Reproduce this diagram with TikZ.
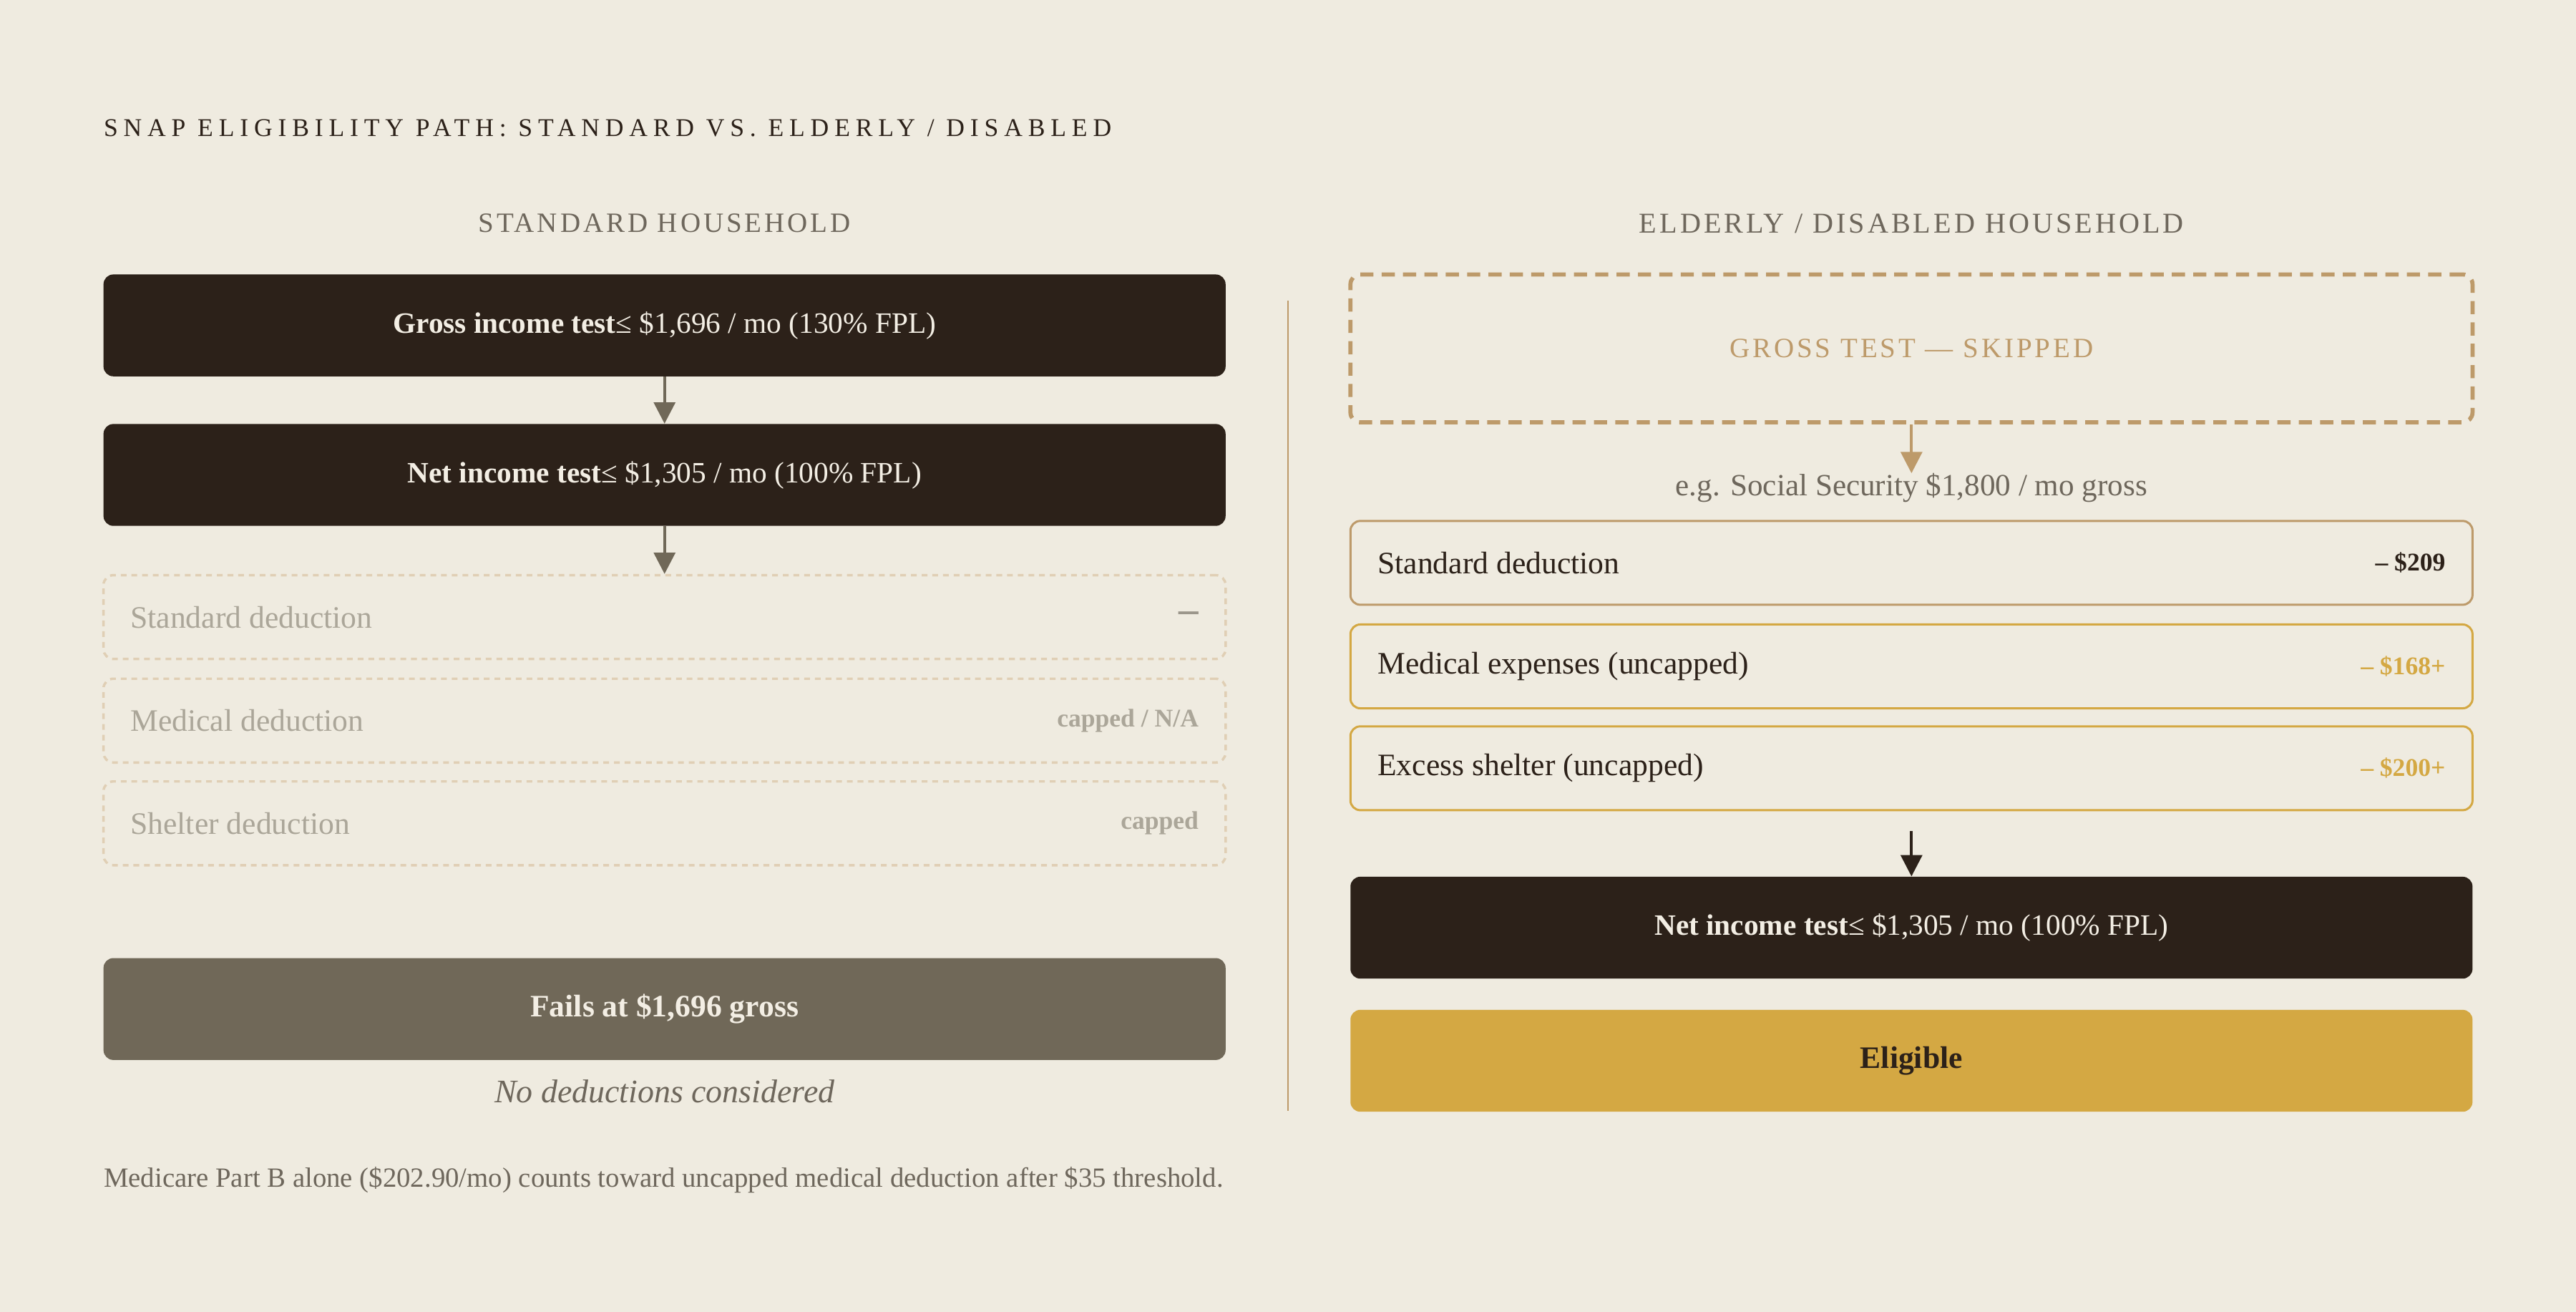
\documentclass[tikz,border=0pt]{standalone}
\usepackage{fontspec}
\setmainfont{Liberation Serif}
\newfontfamily\spacedfont[LetterSpace=22]{Liberation Serif}
\newfontfamily\headfont[LetterSpace=10]{Liberation Serif}
\usetikzlibrary{arrows.meta,positioning}

\definecolor{paper}{HTML}{EFEBE0}
\definecolor{ink}{HTML}{2C2119}
\definecolor{stone}{HTML}{706858}
\definecolor{gold}{HTML}{D4A843}
\definecolor{tan}{HTML}{BD9A6A}
\definecolor{faded}{HTML}{E0CFB5}
\definecolor{fadetext}{HTML}{ABA699}
\definecolor{cream}{HTML}{F3EEE4}
\definecolor{muted}{HTML}{6E675C}

\tikzset{
  bar/.style={rounded corners=6pt, minimum width=683pt, minimum height=62pt, inner sep=0pt,
    font=\fontsize{18}{21}\selectfont},
  darkbar/.style={bar, fill=ink, text=cream},
  ghost/.style={bar, draw=faded, dash pattern=on 3.5pt off 3pt, line width=1.5pt, minimum height=51pt},
  rowbox/.style={bar, draw=#1, line width=1.3pt, minimum height=51pt},
  rowtext/.style={inner sep=0pt, font=\fontsize{19}{22}\selectfont},
  valtext/.style={inner sep=0pt, font=\fontsize{15.5}{18}\selectfont\bfseries},
  colhead/.style={text=muted, font=\fontsize{17}{20}\selectfont\headfont},
  flow/.style={-{Triangle[length=13pt,width=13pt]}, line width=1.7pt}
}

\begin{document}
\begin{tikzpicture}[x=1pt,y=-1pt]
  \fill[paper] (0,0) rectangle (1568,798.3);
  \useasboundingbox (0,0) rectangle (1568,798.3);

  % title
  \node[anchor=west, text=ink, inner sep=0pt, font=\fontsize{15.5}{18}\selectfont\spacedfont] (title) at (63,78)
    {SNAP ELIGIBILITY PATH: STANDARD VS. ELDERLY / DISABLED};

  % standard household
  \node[colhead] (headL) at (404.5,136) {STANDARD HOUSEHOLD};
  \node[darkbar] (gross) at (404.5,198) {\textbf{Gross income test}≤ \$1,696 / mo (130\% FPL)};
  \node[darkbar] (netL) at (404.5,289) {\textbf{Net income test}≤ \$1,305 / mo (100\% FPL)};
  \node[ghost] (stdL) at (404.5,375.5) {};
  \node[ghost] (medL) at (404.5,438.5) {};
  \node[ghost] (shelL) at (404.5,501) {};
  \node[rowtext, text=fadetext, right=17pt of stdL.west] (stdLt) {Standard deduction};
  \node[rowtext, text=fadetext, right=17pt of medL.west] (medLt) {Medical deduction};
  \node[rowtext, text=fadetext, right=17pt of shelL.west] (shelLt) {Shelter deduction};
  \node[valtext, text=fadetext!90!black, left=17pt of stdL.east, font=\fontsize{24}{24}\selectfont\bfseries] (stdLv) {–};
  \node[valtext, text=fadetext, left=17pt of medL.east] (medLv) {capped / N/A};
  \node[valtext, text=fadetext, left=17pt of shelL.east] (shelLv) {capped};
  \node[bar, fill=stone, text=cream, font=\fontsize{19}{22}\selectfont\bfseries] (fails) at (404.5,614) {Fails at \$1,696 gross};
  \node[text=muted, font=\fontsize{20}{23}\selectfont\itshape] (nodeds) at (404.5,664) {No deductions considered};

  \draw[flow, stone] (gross) -- (netL);
  \draw[flow, stone] (netL) -- (stdL);

  % divider
  \draw[tan, line width=1pt] (784,183) -- (784,676);

  % elderly / disabled household
  \node[colhead, font=\fontsize{17.5}{20}\selectfont\headfont] (headR) at (1163.5,136) {ELDERLY / DISABLED HOUSEHOLD};
  \node[bar, draw=tan, line width=2.5pt, dash pattern=on 8pt off 5pt, minimum height=90pt, text=tan,
    font=\fontsize{17}{20}\selectfont\headfont] (skip) at (1163.5,212) {GROSS TEST — SKIPPED};
  \node[text=muted, inner sep=0pt, font=\fontsize{18.8}{22}\selectfont] (income) at (1163.5,297)
    {e.g. Social Security \$1,800 / mo gross};
  \node[rowbox=tan] (stdR) at (1163.5,342.5) {};
  \node[rowbox=gold] (medR) at (1163.5,405.5) {};
  \node[rowbox=gold] (excR) at (1163.5,467.5) {};
  \node[rowtext, text=ink, right=17pt of stdR.west] (stdRt) {Standard deduction};
  \node[rowtext, text=ink, right=17pt of medR.west] (medRt) {Medical expenses (uncapped)};
  \node[rowtext, text=ink, right=17pt of excR.west] (excRt) {Excess shelter (uncapped)};
  \node[valtext, text=ink, left=17pt of stdR.east] (stdRv) {– \$209};
  \node[valtext, text=gold, left=17pt of medR.east] (medRv) {– \$168+};
  \node[valtext, text=gold, left=17pt of excR.east] (excRv) {– \$200+};
  \node[darkbar] (netR) at (1163.5,564.5) {\textbf{Net income test}≤ \$1,305 / mo (100\% FPL)};
  \node[bar, fill=gold, text=ink, font=\fontsize{19}{22}\selectfont\bfseries] (elig) at (1163.5,645.5) {Eligible};

  \draw[flow, tan] (skip) -- (income);
  \draw[flow, ink, shorten <=12pt] (excR) -- (netR);

  % footnote
  \node[anchor=west, inner sep=0pt, text=muted, font=\fontsize{16.9}{20}\selectfont] (foot) at (63,718)
    {Medicare Part B alone (\$202.90/mo) counts toward uncapped medical deduction after \$35 threshold.};
\end{tikzpicture}
\end{document}
